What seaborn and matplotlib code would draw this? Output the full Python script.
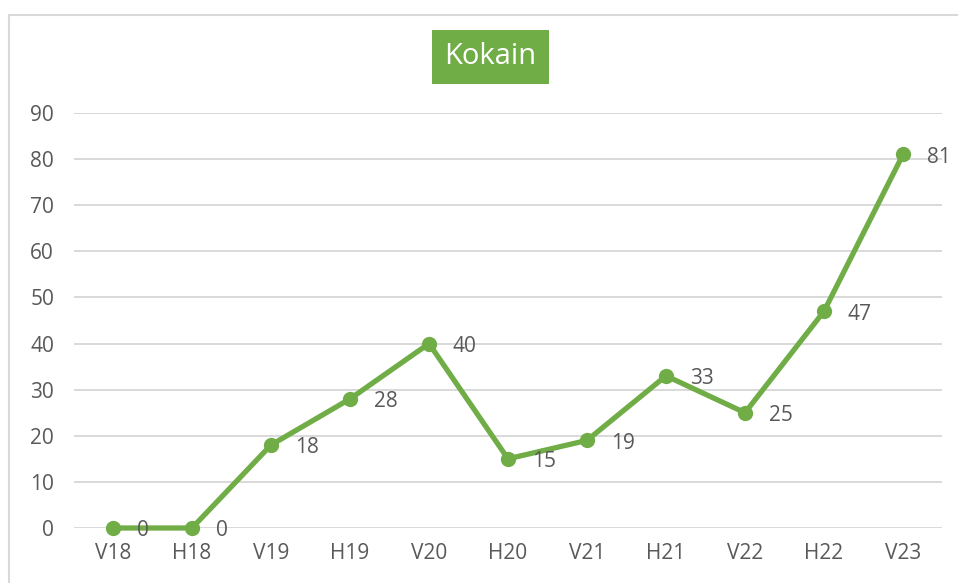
import matplotlib
matplotlib.use("Agg")
import matplotlib.pyplot as plt
import seaborn as sns
import pandas as pd
from matplotlib.patches import Rectangle

# data
periods = ["V18", "H18", "V19", "H19", "V20", "H20", "V21", "H21", "V22", "H22", "V23"]
counts = [0, 0, 18, 28, 40, 15, 19, 33, 25, 47, 81]
title = "Kokain"

green = "#70AD47"
text_gray = "#595959"
grid_gray = "#D9D9D9"

sns.set_theme(style="white")
plt.rcParams["font.family"] = ["Open Sans", "DejaVu Sans"]

df = pd.DataFrame({"period": periods, "count": counts})

W, H = 958, 583
fig = plt.figure(figsize=(W / 100, H / 100), dpi=100)
ax = fig.add_axes([73.5 / W, 1 - 528 / H, (942.5 - 73.5) / W, (528 - 113) / H])

# outer chart frame (cut off at right/bottom like the screenshot)
fig.patches.append(Rectangle((9 / W, -0.1), 1.2, 1.1 - 15 / H,
                             transform=fig.transFigure, fill=False,
                             edgecolor=grid_gray, linewidth=1.5, zorder=0))

sns.lineplot(data=df, x="period", y="count", sort=False, ax=ax,
             color=green, linewidth=3.8, marker="o", markersize=11,
             markeredgewidth=0, zorder=3, clip_on=False)

for i, v in enumerate(counts):
    ax.annotate(str(v), (i, v), xytext=(17, -2), textcoords="offset points",
                ha="left", va="center", fontsize=15, color=text_gray, zorder=4)

ax.set_xlim(-0.5, len(periods) - 0.5)
ax.set_ylim(0, 90)
ax.set_yticks(range(0, 91, 10))
ax.yaxis.grid(True, color=grid_gray, linewidth=1.4)
ax.set_axisbelow(True)
for s in ax.spines.values():
    s.set_visible(False)
ax.tick_params(axis="both", length=0, labelsize=15, labelcolor=text_gray)
ax.tick_params(axis="x", pad=11)
ax.tick_params(axis="y", pad=14)
ax.set_xlabel("")
ax.set_ylabel("")

# title in a green box
fig.patches.append(Rectangle((432 / W, 1 - 84 / H), 117 / W, 54 / H,
                             transform=fig.transFigure, facecolor=green,
                             edgecolor="none", zorder=1))
fig.text(490.5 / W, 1 - 57 / H, title, ha="center", va="center",
         fontsize=21, color="white", zorder=2)

fig.savefig("out.png", dpi=100)
